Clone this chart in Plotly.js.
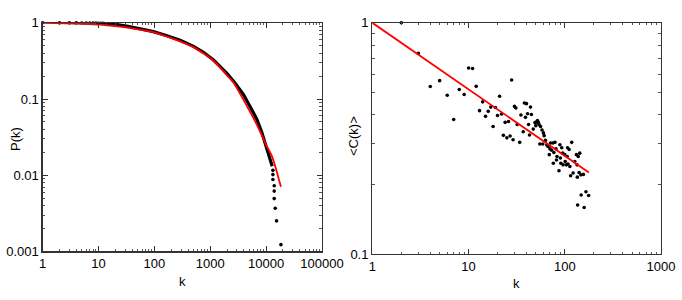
<!DOCTYPE html>
<html>
<head>
<meta charset="utf-8">
<script src="https://cdn.plot.ly/plotly-3.0.1.min.js"></script>
<style>
html,body{margin:0;padding:0;background:#fff;}
#chart{width:682px;height:300px;}
</style>
</head>
<body>
<div id="chart"></div>
<script>
// ---- Left panel: cumulative degree distribution P(k) ----
const pkDenseK = [14, 20, 32, 55, 96, 167, 289, 501, 755, 1141, 1983, 2794, 3937, 5190, 6840, 8410, 9910, 11500, 12860];
const pkDenseP = [0.975, 0.955, 0.905, 0.835, 0.765, 0.675, 0.59, 0.49, 0.41, 0.325, 0.218, 0.161, 0.114, 0.079, 0.054, 0.036, 0.024, 0.016, 0.0131];
const pkDotsK = [1, 2, 3, 4, 5, 6, 7, 8, 9, 10, 11, 12, 13, 13230, 13230, 13230, 13960, 13960, 13960, 14550, 15360, 18420];
const pkDotsP = [1, 0.999, 0.998, 0.997, 0.996, 0.995, 0.993, 0.992, 0.99, 0.988, 0.986, 0.984, 0.981, 0.0116, 0.0102, 0.0088, 0.0073, 0.0062, 0.00494, 0.00369, 0.00252, 0.00123];
const pkFitK = [1, 10.6, 42, 96, 218, 500, 1141, 1870, 2606, 4530, 6840, 10320, 12700, 14550, 18400];
const pkFitP = [1, 0.945, 0.84, 0.755, 0.615, 0.48, 0.32, 0.215, 0.165, 0.081, 0.046, 0.024, 0.0178, 0.0131, 0.00705];

// ---- Right panel: average clustering <C(k)> ----
const ckK = [2, 3, 4, 5, 6, 7, 8, 9, 10, 11, 12, 13, 14, 15, 16, 17, 18, 19, 20, 21, 22, 23, 24, 25, 26, 27, 28, 29, 30, 31,
  32, 34, 35, 37, 38, 39, 40, 41, 42, 43, 44, 45, 47, 49, 50, 51, 52, 53, 54, 55, 56, 58, 59, 60, 61, 63, 65, 67, 69, 70,
  71, 73, 75, 76, 77, 79, 81, 82, 83, 87, 89, 90, 91, 93, 95, 96, 100, 101, 104, 106, 107, 108, 111, 113, 115, 118, 122, 127, 132, 134,
  135, 136, 138, 141, 143, 147, 148, 156, 159, 166, 177];
const ckC = [1.0, 0.738, 0.530, 0.562, 0.486, 0.382, 0.515, 0.490, 0.638, 0.634, 0.531, 0.417, 0.455, 0.394, 0.414, 0.432, 0.356, 0.430, 0.397, 0.481, 0.403, 0.326, 0.371, 0.318, 0.374, 0.324, 0.566, 0.312, 0.435, 0.428,
  0.363, 0.304, 0.399, 0.338, 0.450, 0.390, 0.447, 0.404, 0.363, 0.327, 0.432, 0.401, 0.347, 0.370, 0.359, 0.373, 0.378, 0.371, 0.363, 0.299, 0.356, 0.344, 0.299, 0.334, 0.325, 0.310, 0.296, 0.292, 0.269, 0.285,
  0.302, 0.281, 0.302, 0.247, 0.275, 0.304, 0.285, 0.255, 0.264, 0.229, 0.297, 0.260, 0.247, 0.288, 0.273, 0.243, 0.269, 0.251, 0.243, 0.264, 0.288, 0.245, 0.283, 0.239, 0.218, 0.304, 0.224, 0.251, 0.269, 0.243,
  0.215, 0.163, 0.264, 0.225, 0.273, 0.220, 0.180, 0.221, 0.159, 0.186, 0.179];
const ckFitK = [1, 178];
const ckFitC = [1, 0.225];

// tick labels
const leftXTicks = [1, 10, 100, 1000, 10000, 100000];
const leftXText = ['1', '10', '100', '1000', '10000', '100000'];
const leftYTicks = [0.001, 0.01, 0.1, 1];
const leftYText = ['0.001', '0.01', '0.1', '1'];
const rightXTicks = [1, 10, 100, 1000];
const rightXText = ['1', '10', '100', '1000'];
const rightYTicks = [0.1, 1];
const rightYText = ['0.1', '1'];

// minor tick positions (2..9 within each decade) – axis styling only
function minorTicks(decadeStarts) {
  const out = [];
  decadeStarts.forEach(d => { for (let m = 2; m <= 9; m++) out.push(d * m); });
  return out;
}

const FONT = 'Liberation Sans, Arial, sans-serif';
const dotMarker = {color: '#000', size: 3.6};

const traces = [
  {x: pkDenseK, y: pkDenseP, xaxis: 'x', yaxis: 'y', mode: 'lines', line: {color: '#000', width: 3.2}},
  {x: pkDotsK, y: pkDotsP, xaxis: 'x', yaxis: 'y', mode: 'markers', marker: dotMarker, cliponaxis: false},
  {x: pkFitK, y: pkFitP, xaxis: 'x', yaxis: 'y', mode: 'lines', line: {color: '#ff0000', width: 1.8, shape: 'spline', smoothing: 0.5}},
  {x: ckK, y: ckC, xaxis: 'x2', yaxis: 'y2', mode: 'markers', marker: dotMarker, cliponaxis: false},
  {x: ckFitK, y: ckFitC, xaxis: 'x2', yaxis: 'y2', mode: 'lines', line: {color: '#ff0000', width: 1.8}}
];

function axis(extra, minorVals) {
  return Object.assign({
    type: 'log',
    showgrid: false, zeroline: false,
    showline: true, linecolor: '#333', linewidth: 1.3, mirror: 'ticks',
    ticks: 'inside', ticklen: 5, tickwidth: 1, tickcolor: '#333',
    minor: {tickmode: 'array', tickvals: minorVals, ticks: 'inside', ticklen: 2.5, tickwidth: 1, tickcolor: '#555', showgrid: false},
    tickfont: {family: FONT, size: 13, color: '#000'},
    tickmode: 'array',
    fixedrange: true
  }, extra);
}

const layout = {
  width: 682, height: 300,
  margin: {l: 0, r: 0, t: 0, b: 0},
  paper_bgcolor: '#fff', plot_bgcolor: '#fff',
  showlegend: false,
  font: {family: FONT, size: 13, color: '#000'},
  xaxis: axis({domain: [0.0626, 0.4721], range: [0, 5], tickvals: leftXTicks, ticktext: leftXText, anchor: 'y'}, minorTicks([1, 10, 100, 1000, 10000])),
  yaxis: axis({domain: [0.1617, 0.9240], range: [-3, 0], tickvals: leftYTicks, ticktext: leftYText, anchor: 'x'}, minorTicks([0.001, 0.01, 0.1])),
  xaxis2: axis({domain: [0.5460, 0.9692], range: [0, 3], tickvals: rightXTicks, ticktext: rightXText, anchor: 'y2'}, minorTicks([1, 10, 100])),
  yaxis2: axis({domain: [0.1533, 0.9240], range: [-1, 0], tickvals: rightYTicks, ticktext: rightYText, anchor: 'x2'}, minorTicks([0.1])),
  annotations: [
    {text: 'k', xref: 'paper', yref: 'paper', x: 182 / 682, y: 1 - 281.5 / 300, showarrow: false, font: {family: FONT, size: 13}, xanchor: 'center', yanchor: 'middle'},
    {text: 'P(k)', xref: 'paper', yref: 'paper', x: 15 / 682, y: 1 - 139 / 300, showarrow: false, textangle: -90, font: {family: FONT, size: 13}, xanchor: 'center', yanchor: 'middle'},
    {text: 'k', xref: 'paper', yref: 'paper', x: 516.8 / 682, y: 1 - 283 / 300, showarrow: false, font: {family: FONT, size: 13}, xanchor: 'center', yanchor: 'middle'},
    {text: '&lt;C(k)&gt;', xref: 'paper', yref: 'paper', x: 353 / 682, y: 1 - 136 / 300, showarrow: false, textangle: -90, font: {family: FONT, size: 13}, xanchor: 'center', yanchor: 'middle'}
  ]
};

Plotly.newPlot('chart', traces, layout, {displayModeBar: false, staticPlot: true});
</script>
</body>
</html>
